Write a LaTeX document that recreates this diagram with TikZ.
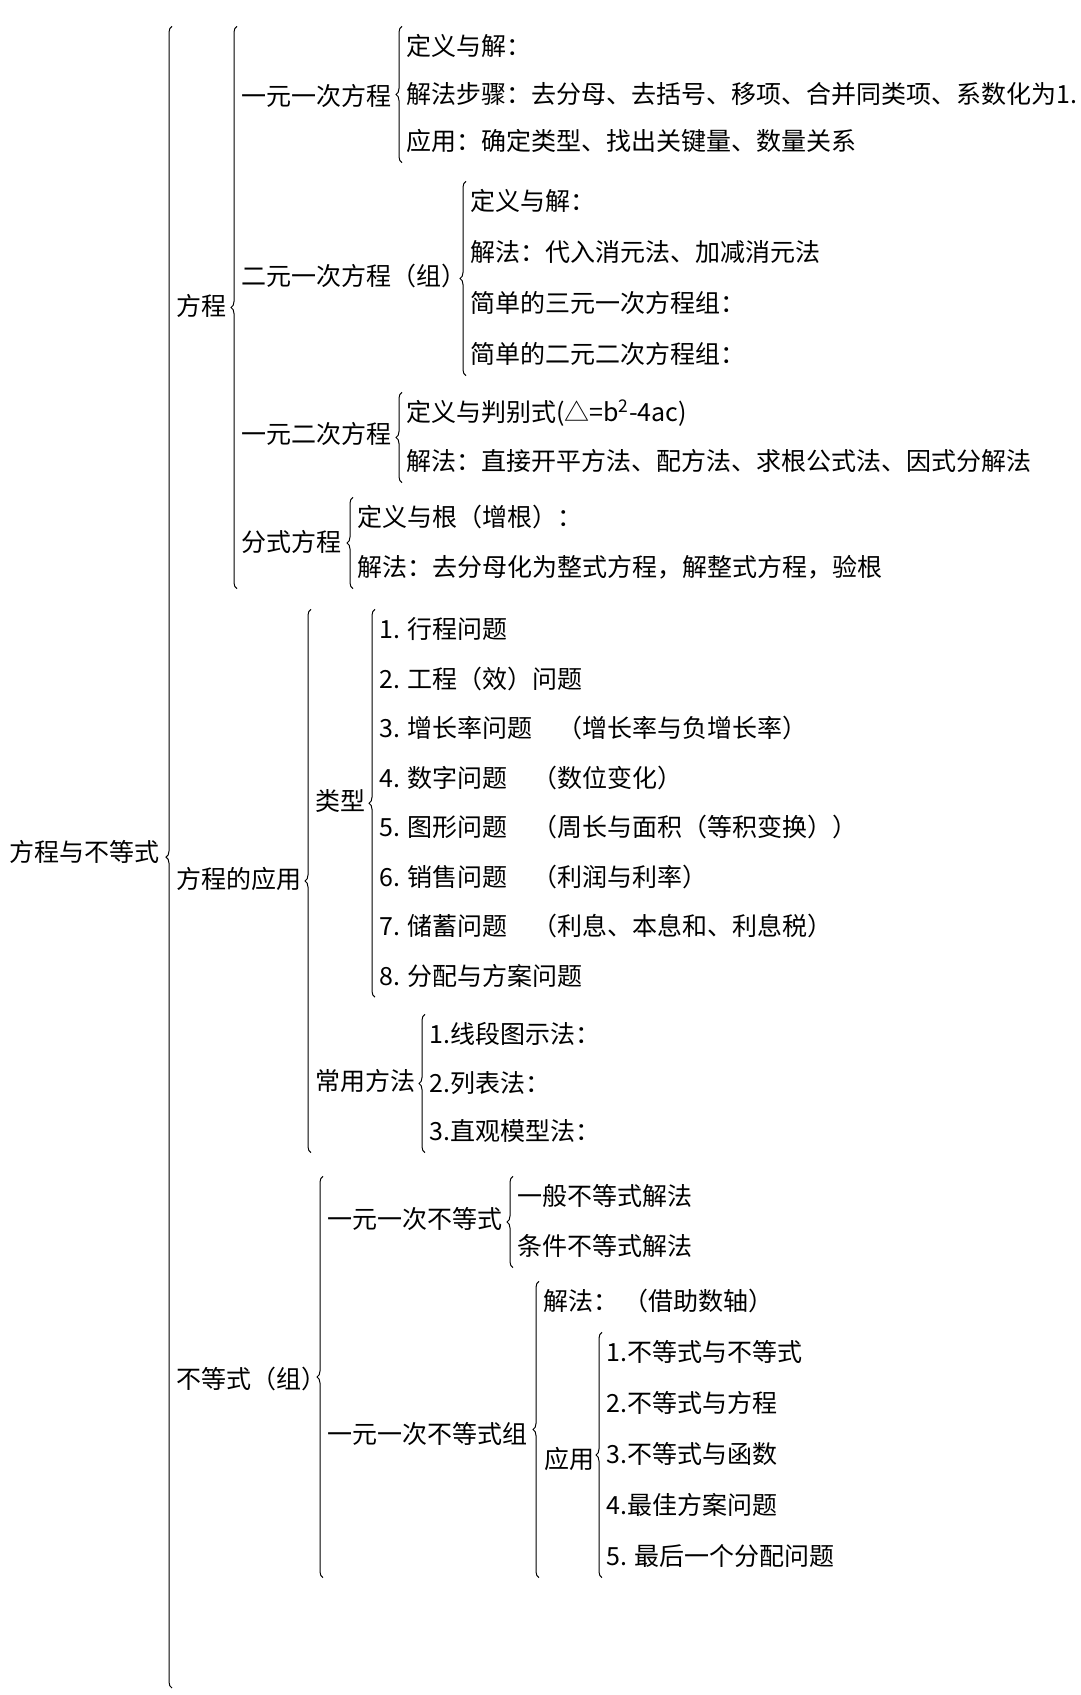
\documentclass[tikz,border=0pt]{standalone}
\usepackage{fontspec}
\setmainfont{Noto Sans CJK SC}
\usetikzlibrary{positioning,decorations.pathreplacing}

\tikzset{
  txt/.style={anchor=west, inner xsep=0pt, inner ysep=8pt, text height=21pt, text depth=4pt,
    font=\fontsize{25pt}{30pt}\selectfont},
  brc/.style={decorate, decoration={brace, amplitude=6pt, raise=4pt}, line width=1pt},
}

\begin{document}
\begin{tikzpicture}[x=1pt, y=-1pt]
  \useasboundingbox (0,0) rectangle (1080,1695);

  \node[txt] (r) at (9,853) {方程与不等式};
  \node[txt] (p1) at (176,307) {方程};
  \node[txt] (p2) at (176,880) {方程的应用};
  \node[txt] (p3) at (176,1380) {不等式（组）};

  \node[txt] (e1) at (241,97) {一元一次方程};
  \node[txt] (e2) at (241,277) {二元一次方程（组）};
  \node[txt] (e3) at (241,435) {一元二次方程};
  \node[txt] (e4) at (241,543) {分式方程};

  \node[txt] (a1) at (406,47) {定义与解：};
  \node[txt, below=48pt of a1.west, anchor=west] (a2) {解法步骤：去分母、去括号、移项、合并同类项、系数化为1.};
  \node[txt, below=47pt of a2.west, anchor=west] (a3) {应用：确定类型、找出关键量、数量关系};

  \node[txt] (b1) at (470,202) {定义与解：};
  \node[txt, below=51pt of b1.west, anchor=west] (b2) {解法：代入消元法、加减消元法};
  \node[txt, below=51pt of b2.west, anchor=west] (b3) {简单的三元一次方程组：};
  \node[txt, below=51pt of b3.west, anchor=west] (b4) {简单的二元二次方程组：};

  \node[txt] (c1) at (406,413) {定义与判别式(△=b\textsuperscript{2}-4ac)};
  \node[txt, below=49pt of c1.west, anchor=west] (c2) {解法：直接开平方法、配方法、求根公式法、因式分解法};

  \node[txt] (d1) at (357,518) {定义与根（增根）：};
  \node[txt, below=50pt of d1.west, anchor=west] (d2) {解法：去分母化为整式方程，解整式方程，验根};

  \node[txt] (q1) at (315,802) {类型};
  \node[txt] (q2) at (315,1082) {常用方法};

  \node[txt] (t1) at (379,630) {1. 行程问题};
  \node[txt, below=49.5pt of t1.west, anchor=west] (t2) {2. 工程（效）问题};
  \node[txt, below=49.5pt of t2.west, anchor=west] (t3) {3. 增长率问题　（增长率与负增长率）};
  \node[txt, below=49.5pt of t3.west, anchor=west] (t4) {4. 数字问题　（数位变化）};
  \node[txt, below=49.5pt of t4.west, anchor=west] (t5) {5. 图形问题　（周长与面积（等积变换））};
  \node[txt, below=49.5pt of t5.west, anchor=west] (t6) {6. 销售问题　（利润与利率）};
  \node[txt, below=49.5pt of t6.west, anchor=west] (t7) {7. 储蓄问题　（利息、本息和、利息税）};
  \node[txt, below=49.5pt of t7.west, anchor=west] (t8) {8. 分配与方案问题};

  \node[txt] (m1) at (429,1035) {1.线段图示法：};
  \node[txt, below=48.5pt of m1.west, anchor=west] (m2) {2.列表法：};
  \node[txt, below=48.5pt of m2.west, anchor=west] (m3) {3.直观模型法：};

  \node[txt] (n1) at (327,1220) {一元一次不等式};
  \node[txt] (n2) at (327,1435) {一元一次不等式组};

  \node[txt] (g1) at (517,1197) {一般不等式解法};
  \node[txt, below=50pt of g1.west, anchor=west] (g2) {条件不等式解法};

  \node[txt] (s1) at (543,1302) {解法： （借助数轴）};
  \node[txt] (s2) at (544,1460) {应用};

  \node[txt] (y1) at (606,1353) {1.不等式与不等式};
  \node[txt, below=51pt of y1.west, anchor=west] (y2) {2.不等式与方程};
  \node[txt, below=51pt of y2.west, anchor=west] (y3) {3.不等式与函数};
  \node[txt, below=51pt of y3.west, anchor=west] (y4) {4.最佳方案问题};
  \node[txt, below=51pt of y4.west, anchor=west] (y5) {5. 最后一个分配问题};

  % braces
  \draw[brc] (a3.south west) -- (a1.north west) coordinate (top1);
  \draw[brc] (b4.south west) -- (b1.north west);
  \draw[brc] (c2.south west) -- (c1.north west);
  \draw[brc] (d2.south west) coordinate (bot1) -- (d1.north west);
  \draw[brc] (e1.west |- bot1) -- (e1.west |- top1);

  \draw[brc] (t8.south west) -- (t1.north west) coordinate (top2);
  \draw[brc] (m3.south west) coordinate (bot2) -- (m1.north west);
  \draw[brc] (q1.west |- bot2) -- (q1.west |- top2);

  \draw[brc] (g2.south west) -- (g1.north west) coordinate (top3);
  \draw[brc] (y5.south west) coordinate (bot3) -- (y1.north west);
  \draw[brc] (s1.west |- bot3) -- (s1.north west);
  \draw[brc] (n1.west |- bot3) -- (n1.west |- top3);

  \draw[brc] (p1.west |- 0,1688) -- (p1.west |- top1);
\end{tikzpicture}
\end{document}
